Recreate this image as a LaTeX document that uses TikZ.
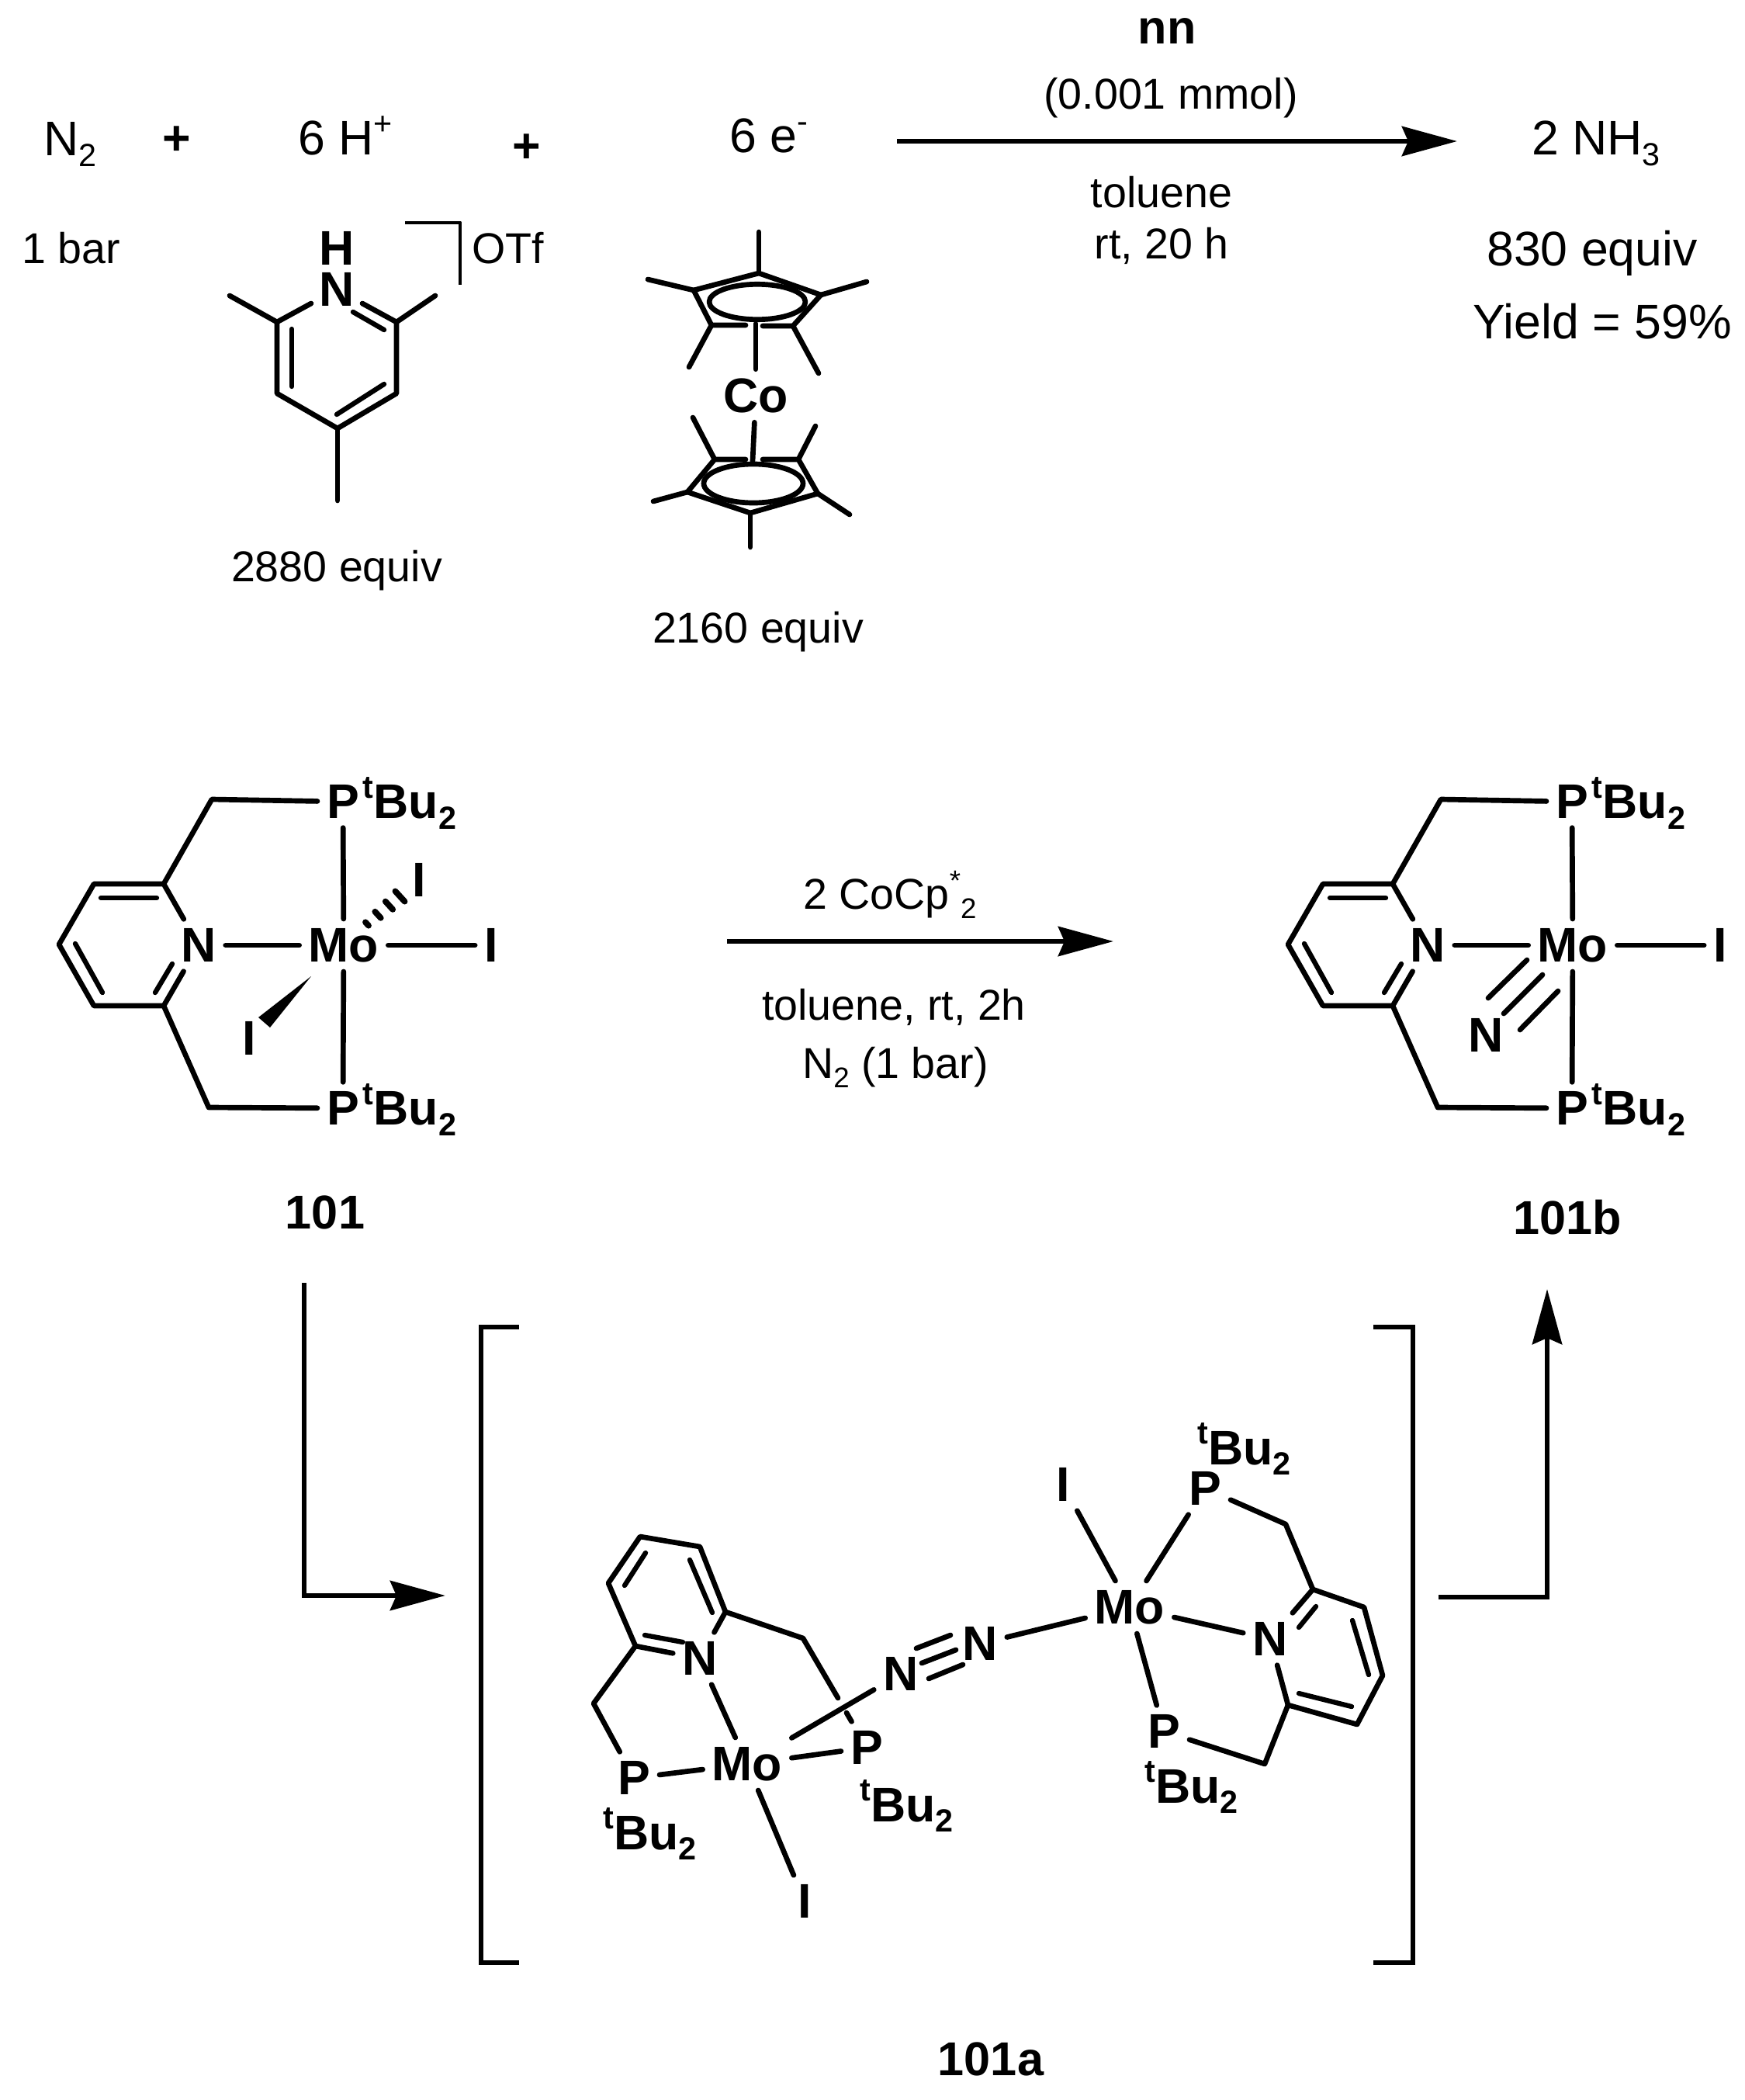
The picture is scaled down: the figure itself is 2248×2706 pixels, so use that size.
\documentclass[tikz,border=0pt]{standalone}
\usepackage{fontspec}
\setmainfont{Liberation Sans}
\usetikzlibrary{arrows.meta}
\usetikzlibrary{calc}
\usetikzlibrary{positioning}
\newcommand{\dn}[1]{\raisebox{-.22em}{\scalebox{.66}{#1}}}
\newcommand{\up}[1]{\raisebox{.42em}{\scalebox{.66}{#1}}}
\tikzset{
  txt/.style={anchor=base,inner sep=0pt,font=\fontsize{15.8}{18}\selectfont},
  txtl/.style={txt,anchor=base west},
  big/.style={font=\fontsize{17.8}{20}\selectfont},
  lbl/.style={txt,font=\fontsize{17.4}{20}\selectfont\bfseries},
  atom/.style={inner sep=2.5pt,font=\fontsize{17.8}{20}\selectfont\bfseries},
  tbu/.style={atom,inner sep=0pt,anchor=base west},
  inner/.style={line width=1.8pt},
  arr/.style={-{Stealth[length=0.71cm,width=0.38cm,inset=0.08cm]},line cap=butt}
}
\begin{document}
\begin{tikzpicture}[x=0.01cm,y=-0.01cm,line width=1.9pt,line cap=round,line join=round]
\useasboundingbox (0,0) rectangle (2248,2706);

\node[txtl,big](n2) at (53, 201) {N\dn{2}};
\node[txtl,big](plus1) at (206, 200) {\textbf{+}};
\node[txtl,big](hplus) at (381, 200) {6 H\up{+}};
\node[txtl,big](plus2) at (657, 209) {\textbf{+}};
\node[txtl,big](elec) at (937, 197) {6 e\up{-}};
\node[txtl](bar) at (25, 340) {1 bar};
\node[txtl](otf) at (605, 340) {OTf};
\node[lbl](nn) at (1504, 57) {nn};
\node[txt](cat) at (1509, 141) {(0.001 mmol)};
\node[txt](tol) at (1497, 268) {toluene};
\node[txt](rt) at (1497, 333) {rt, 20 h};
\node[txtl,big](nh3) at (1971, 200) {2 NH\dn{3}};
\node[txt,big](eqa) at (2052, 342) {830 equiv};
\node[txt,big](yld) at (2065, 436) {Yield = 59\%};
\node[txt](eqb) at (434, 749) {2880 equiv};
\node[txt](eqc) at (977, 828) {2160 equiv};
\coordinate (a1s) at (1156, 182); \coordinate (a1e) at (1878, 182);
\draw[arr] (a1s)--(a1e);

\node[atom,inner sep=0pt](hpy) at (434, 319.5) {H};
\node[atom,inner sep=2pt](npy) at (434, 373) {N};
\coordinate (c2p) at (357, 415); \coordinate (c3p) at (357, 507); \coordinate (c4p) at (435, 552);
\coordinate (c5p) at (511, 507); \coordinate (c6p) at (511, 415);
\coordinate (m2p) at (296, 381); \coordinate (m6p) at (561, 381); \coordinate (m4p) at (435, 645);
\draw (npy)--(c2p)--(c3p)--(c4p)--(c5p)--(c6p)--(npy);
\draw (c2p)--(m2p); \draw (c6p)--(m6p); \draw (c4p)--(m4p);
\coordinate (d1a) at (376, 424); \coordinate (d1b) at (376, 498);
\coordinate (d2a) at (495, 495); \coordinate (d2b) at (434, 534);
\coordinate (d3a) at (455, 402); \coordinate (d3b) at (495, 425);
\draw[inner] (d1a)--(d1b); \draw[inner] (d2a)--(d2b); \draw[inner] (d3a)--(d3b);
\coordinate (bka) at (522, 287); \coordinate (bkb) at (593, 287); \coordinate (bkc) at (593, 367);
\draw[line width=1.4pt,line cap=butt] (bka)--(bkb)--(bkc);

\node[atom](co) at (974, 510) {Co};
\coordinate (t1) at (978, 352); \coordinate (t2) at (1058, 380); \coordinate (t3) at (1022, 420);
\coordinate (t4) at (917, 419); \coordinate (t5) at (894, 374); \coordinate (tc) at (976, 389);
\coordinate (tf1) at (961, 419); \coordinate (tf2) at (983, 420);
\draw (tf2)--(t3)--(t2)--(t1)--(t5)--(t4)--(tf1);
\draw (tc) ellipse [x radius=62, y radius=22.7];
\coordinate (tm1) at (978, 299); \coordinate (tm2) at (1117, 363); \coordinate (tm3) at (1055, 481);
\coordinate (tm4) at (888, 473); \coordinate (tm5) at (835, 360); \coordinate (tb) at (974, 417);
\draw (t1)--(tm1); \draw (t2)--(tm2); \draw (t3)--(tm3); \draw (t4)--(tm4); \draw (t5)--(tm5);
\draw (tb)--(co);
\coordinate (u1) at (967, 661); \coordinate (u2) at (1054, 636); \coordinate (u3) at (1029, 592);
\coordinate (u4) at (921, 592); \coordinate (u5) at (886, 634); \coordinate (uc) at (971, 623);
\coordinate (uf1) at (961, 592); \coordinate (uf2) at (983, 592);
\draw (uf2)--(u3)--(u2)--(u1)--(u5)--(u4)--(uf1);
\draw (uc) ellipse [x radius=64, y radius=25];
\coordinate (um1) at (967, 705); \coordinate (um2) at (1095, 663); \coordinate (um3) at (1051, 549);
\coordinate (um4) at (893, 538); \coordinate (um5) at (842, 646); \coordinate (ub) at (970, 594);
\draw (u1)--(um1); \draw (u2)--(um2); \draw (u3)--(um3); \draw (u4)--(um4); \draw (u5)--(um5);
\draw (co)--(ub);

\foreach \s/\dx in {a/0,b/1584}{
\begin{scope}[shift={(\dx,0)}]
\node[atom](n\s) at (256, 1218) {N};
\node[atom](mo\s) at (443, 1218) {Mo};
\node[atom](i\s) at (633, 1218) {I};
\node[atom](pt\s) at (442, 1033) {P};
\node[atom](pb\s) at (442, 1428) {P};
\node[tbu,xshift=-3pt](tt\s) at (pt\s.base east) {\up{t}Bu\dn{2}};
\node[tbu,xshift=-3pt](tb\s) at (pb\s.base east) {\up{t}Bu\dn{2}};
\coordinate (c2\s) at (211, 1139); \coordinate (c3\s) at (121, 1139); \coordinate (c4\s) at (76, 1217);
\coordinate (c5\s) at (121, 1296); \coordinate (c6\s) at (211, 1296);
\coordinate (h1\s) at (273, 1030); \coordinate (h2\s) at (269, 1427);
\draw (n\s)--(c2\s)--(c3\s)--(c4\s)--(c5\s)--(c6\s)--(n\s);
\draw (c2\s)--(h1\s)--(pt\s); \draw (c6\s)--(h2\s)--(pb\s);
\draw (n\s)--(mo\s); \draw (mo\s)--(i\s); \draw (mo\s)--(pt\s); \draw (mo\s)--(pb\s);
\coordinate (e1\s) at (130, 1157); \coordinate (e2\s) at (202, 1157);
\coordinate (e3\s) at (97, 1216); \coordinate (e4\s) at (132, 1279);
\coordinate (e5\s) at (222, 1242); \coordinate (e6\s) at (200, 1279);
\draw[inner] (e1\s)--(e2\s); \draw[inner] (e3\s)--(e4\s); \draw[inner] (e5\s)--(e6\s);
\end{scope}
}
\node[atom](iup) at (540, 1134) {I};
\node[atom](ilow) at (321, 1338) {I};
\coordinate (hs) at (473, 1190.5); \coordinate (he) at (515.5, 1155);
\foreach \t/\w in {0/3,.33/5.5,.67/7,1/9}{
\draw[line width=2.2pt] ($(hs)!\t!(he)+(\w*.675,\w*.738)$)--($(hs)!\t!(he)-(\w*.675,\w*.738)$);
}
\coordinate (wa) at (401, 1258); \coordinate (wb) at (333, 1311); \coordinate (wc) at (348, 1324);
\fill (wa)--(wb)--(wc)--cycle;
\node[atom](ntop) at (1915, 1334) {N};
\coordinate (ta1) at (1968, 1237); \coordinate (ta2) at (1918, 1286);
\coordinate (tb1) at (1988, 1256); \coordinate (tb2) at (1938, 1306);
\coordinate (tc1) at (2008, 1277); \coordinate (tc2) at (1959, 1327);
\draw (ta1)--(ta2); \draw (tb1)--(tb2); \draw (tc1)--(tc2);

\node[txt](cocp) at (1147, 1171) {2 CoCp\up{*}\dn{2}};
\node[txt](tol2) at (1152, 1314) {toluene, rt, 2h};
\node[txt](dinit) at (1154, 1389) {N\dn{2} (1 bar)};
\coordinate (a2s) at (937, 1213); \coordinate (a2e) at (1435, 1213);
\draw[arr] (a2s)--(a2e);
\node[lbl](ca) at (419, 1583) {101};
\node[lbl](cb) at (2020, 1590) {101b};
\node[lbl](cc) at (1277, 2674) {101a};

\coordinate (a3s) at (392, 1653); \coordinate (a3m) at (392, 2056); \coordinate (a3e) at (574, 2056);
\draw[arr,line join=miter] (a3s)--(a3m)--(a3e);
\coordinate (a4s) at (1854, 2058); \coordinate (a4m) at (1994, 2058); \coordinate (a4e) at (1994, 1661);
\draw[arr,line join=miter] (a4s)--(a4m)--(a4e);
\coordinate (la) at (669, 1710); \coordinate (lb) at (620, 1710); \coordinate (lc) at (620, 2529); \coordinate (ld) at (669, 2529);
\coordinate (ra) at (1770, 1710); \coordinate (rb) at (1821, 1710); \coordinate (rc) at (1821, 2529); \coordinate (rd) at (1770, 2529);
\draw[line cap=butt,line join=miter] (la)--(lb)--(lc)--(ld);
\draw[line cap=butt,line join=miter] (ra)--(rb)--(rc)--(rd);

\node[atom](mol) at (963, 2273) {Mo};
\node[atom](nl) at (902, 2137) {N};
\node[atom](pla) at (817, 2291) {P};
\node[atom](plb) at (1117, 2252) {P};
\node[atom](il) at (1037, 2450) {I};
\node[tbu](tla) at (774, 2383) {\up{t}Bu\dn{2}};
\node[tbu](tlb) at (1105, 2347) {\up{t}Bu\dn{2}};
\node[atom](na) at (1161, 2157) {N};
\node[atom](nb) at (1263, 2118) {N};
\coordinate (l1) at (819, 2121); \coordinate (l2) at (784, 2040); \coordinate (l3) at (825, 1980);
\coordinate (l4) at (902, 1993); \coordinate (l5) at (935, 2077);
\coordinate (lh1) at (765, 2195); \coordinate (lh2) at (1035, 2111);
\coordinate (lg1) at (1080, 2188); \coordinate (lg2) at (1091, 2207);
\draw (nl)--(l1)--(l2)--(l3)--(l4)--(l5)--(nl);
\draw (l1)--(lh1)--(pla); \draw (l5)--(lh2)--(lg1); \draw (lg2)--(plb);
\draw (mol)--(nl); \draw (mol)--(pla); \draw (mol)--(plb); \draw (mol)--(il); \draw (mol)--(na);
\coordinate (lx1) at (832, 2001); \coordinate (lx2) at (805, 2043);
\coordinate (lx3) at (889, 2010); \coordinate (lx4) at (918, 2078);
\coordinate (lx5) at (831, 2107); \coordinate (lx6) at (880, 2116);
\draw[inner] (lx1)--(lx2); \draw[inner] (lx3)--(lx4); \draw[inner] (lx5)--(lx6);
\coordinate (z1) at (1181, 2124); \coordinate (z2) at (1225, 2107);
\coordinate (z3) at (1188, 2143); \coordinate (z4) at (1232, 2126);
\coordinate (z5) at (1197, 2163); \coordinate (z6) at (1241, 2145);
\draw (z1)--(z2); \draw (z3)--(z4); \draw (z5)--(z6);

\node[atom](mor) at (1456, 2071) {Mo};
\node[atom](nr) at (1637, 2112) {N};
\node[atom](pra) at (1553, 1918) {P};
\node[atom](prb) at (1500, 2231) {P};
\node[atom](ir) at (1370, 1913) {I};
\node[tbu](tra) at (1540, 1887) {\up{t}Bu\dn{2}};
\node[tbu](trb) at (1472, 2323) {\up{t}Bu\dn{2}};
\coordinate (r1) at (1692, 2048); \coordinate (r2) at (1758, 2071); \coordinate (r3) at (1782, 2159);
\coordinate (r4) at (1749, 2222); \coordinate (r5) at (1660, 2197);
\coordinate (rh1) at (1657, 1964); \coordinate (rh2) at (1630, 2273);
\draw (nr)--(r1)--(r2)--(r3)--(r4)--(r5)--(nr);
\draw (r1)--(rh1)--(pra); \draw (r5)--(rh2)--(prb);
\draw (mor)--(nr); \draw (mor)--(pra); \draw (mor)--(prb); \draw (mor)--(ir); \draw (mor)--(nb);
\coordinate (rx1) at (1696, 2070); \coordinate (rx2) at (1674, 2097);
\coordinate (rx3) at (1743, 2088); \coordinate (rx4) at (1764, 2158);
\coordinate (rx5) at (1742, 2199); \coordinate (rx6) at (1674, 2182);
\draw[inner] (rx1)--(rx2); \draw[inner] (rx3)--(rx4); \draw[inner] (rx5)--(rx6);
\end{tikzpicture}
\end{document}
